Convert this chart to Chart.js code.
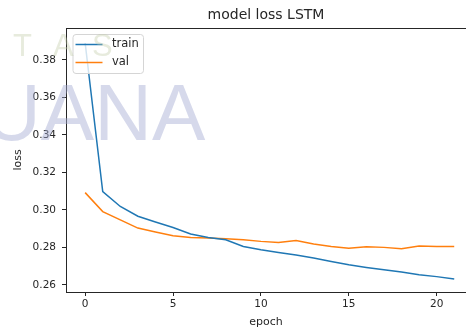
<html>
<head>
<style>
  body { margin: 0; background: #fff; }
</style>
</head>
<body>
<canvas id="myChart" width="466" height="334"></canvas>

<script src="https://cdn.jsdelivr.net/npm/chart.js"></script>

<script>
  const epochs = [0,1,2,3,4,5,6,7,8,9,10,11,12,13,14,15,16,17,18,19,20,21];
  const trainLoss = [0.389, 0.3097, 0.3018, 0.2966, 0.2935, 0.2906, 0.2871, 0.2853, 0.2841, 0.2805, 0.2787,
                     0.2773, 0.2759, 0.2743, 0.2725, 0.2707, 0.2693, 0.2681, 0.2669, 0.2654, 0.2644, 0.2631];
  const valLoss = [0.3092, 0.2991, 0.2947, 0.2903, 0.2882, 0.2862, 0.2853, 0.2850, 0.2846, 0.2841, 0.2832,
                   0.2826, 0.2837, 0.2818, 0.2805, 0.2796, 0.2803, 0.2800, 0.2793, 0.2807, 0.2805, 0.2805];
  const yTicks = [0.26, 0.28, 0.30, 0.32, 0.34, 0.36, 0.38];
  const xTicks = [0, 5, 10, 15, 20];

  const FONT = "'DejaVu Sans', sans-serif";
  const INK = '#262626';

  // matplotlib-like legend box in the upper left, drawn over the lines
  const boxLegend = {
    id: 'boxLegend',
    afterDatasetsDraw(chart) {
      const ctx = chart.ctx, a = chart.chartArea;
      const x = a.left + 6.5, y = a.top + 6, w = 70.5, h = 39;
      ctx.save();
      ctx.fillStyle = 'rgba(255,255,255,0.8)';
      ctx.strokeStyle = '#d5d5d5';
      ctx.lineWidth = 1;
      ctx.beginPath();
      ctx.roundRect(x + 0.5, y + 0.5, w, h, 3);
      ctx.fill();
      ctx.stroke();
      ctx.font = '11.5px ' + FONT;
      ctx.textBaseline = 'middle';
      chart.data.datasets.forEach((ds, i) => {
        const cy = y + 10.5 + i * 18;
        ctx.strokeStyle = ds.borderColor;
        ctx.lineWidth = 1.5;
        ctx.beginPath();
        ctx.moveTo(x + 3, cy);
        ctx.lineTo(x + 30, cy);
        ctx.stroke();
        ctx.fillStyle = INK;
        ctx.fillText(ds.label, x + 39.5, cy);
      });
      ctx.restore();
    }
  };

  // top spine (right spine is outside the picture)
  const topSpine = {
    id: 'topSpine',
    afterDatasetsDraw(chart) {
      const ctx = chart.ctx, a = chart.chartArea;
      ctx.save();
      ctx.strokeStyle = INK;
      ctx.lineWidth = 1;
      ctx.beginPath();
      ctx.moveTo(a.left, a.top + 0.5);
      ctx.lineTo(a.right, a.top + 0.5);
      ctx.stroke();
      ctx.restore();
    }
  };

  // faint watermark lying over the screenshot
  const watermark = {
    id: 'watermark',
    afterDraw(chart) {
      const ctx = chart.ctx;
      ctx.save();
      ctx.textBaseline = 'alphabetic';
      ctx.font = "80px 'Liberation Sans', sans-serif";
      ctx.fillStyle = 'rgba(165,170,210,0.45)';
      ctx.fillText('UANA', -17, 140);
      ctx.font = "31px 'Liberation Sans', sans-serif";
      ctx.fillStyle = 'rgba(195,205,170,0.4)';
      ctx.fillText('T', 13, 56);
      ctx.fillText('A', 53, 56);
      ctx.fillText('S', 92, 56);
      ctx.restore();
    }
  };

  const data = {
    datasets: [{
      label: 'train',
      data: epochs.map((e, i) => ({ x: e, y: trainLoss[i] })),
      borderColor: '#1f77b4',
      borderWidth: 1.5,
      pointRadius: 0,
      tension: 0
    }, {
      label: 'val',
      data: epochs.map((e, i) => ({ x: e, y: valLoss[i] })),
      borderColor: '#ff7f0e',
      borderWidth: 1.5,
      pointRadius: 0,
      tension: 0
    }]
  };

  const config = {
    type: 'line',
    data: data,
    options: {
      responsive: false,
      animation: false,
      devicePixelRatio: 1,
      layout: { padding: 0 },
      plugins: {
        legend: { display: false },
        tooltip: { enabled: false },
        title: {
          display: true,
          text: 'model loss LSTM',
          fullSize: false,
          color: INK,
          font: { family: FONT, size: 14, weight: 'normal' },
          padding: { top: 7, bottom: 4.2 }
        }
      },
      scales: {
        x: {
          type: 'linear',
          min: -1.09,
          max: 21.67,
          afterFit: (s) => { s.height = 42; },
          afterBuildTicks: (s) => { s.ticks = xTicks.map(v => ({ value: v })); },
          grid: { drawOnChartArea: false, tickLength: 4, color: INK },
          border: { color: INK, width: 1 },
          ticks: { color: INK, font: { family: FONT, size: 10.5 }, padding: 2, maxRotation: 0 },
          title: { display: true, text: 'epoch', color: INK, font: { family: FONT, size: 11 }, padding: { top: 0, bottom: 5 } }
        },
        y: {
          min: 0.2562,
          max: 0.397,
          afterFit: (s) => { s.width = 66; },
          afterBuildTicks: (s) => { s.ticks = yTicks.map(v => ({ value: v })); },
          grid: { drawOnChartArea: false, tickLength: 4, color: INK },
          border: { color: INK, width: 1 },
          ticks: { color: INK, font: { family: FONT, size: 10.5 }, padding: 6, callback: (v) => v.toFixed(2) },
          title: { display: true, text: 'loss', color: INK, font: { family: FONT, size: 11 }, padding: { top: 12, bottom: 0 } }
        }
      }
    },
    plugins: [boxLegend, topSpine, watermark]
  };

  const myChart = new Chart(document.getElementById('myChart'), config);
</script>

</body>
</html>
